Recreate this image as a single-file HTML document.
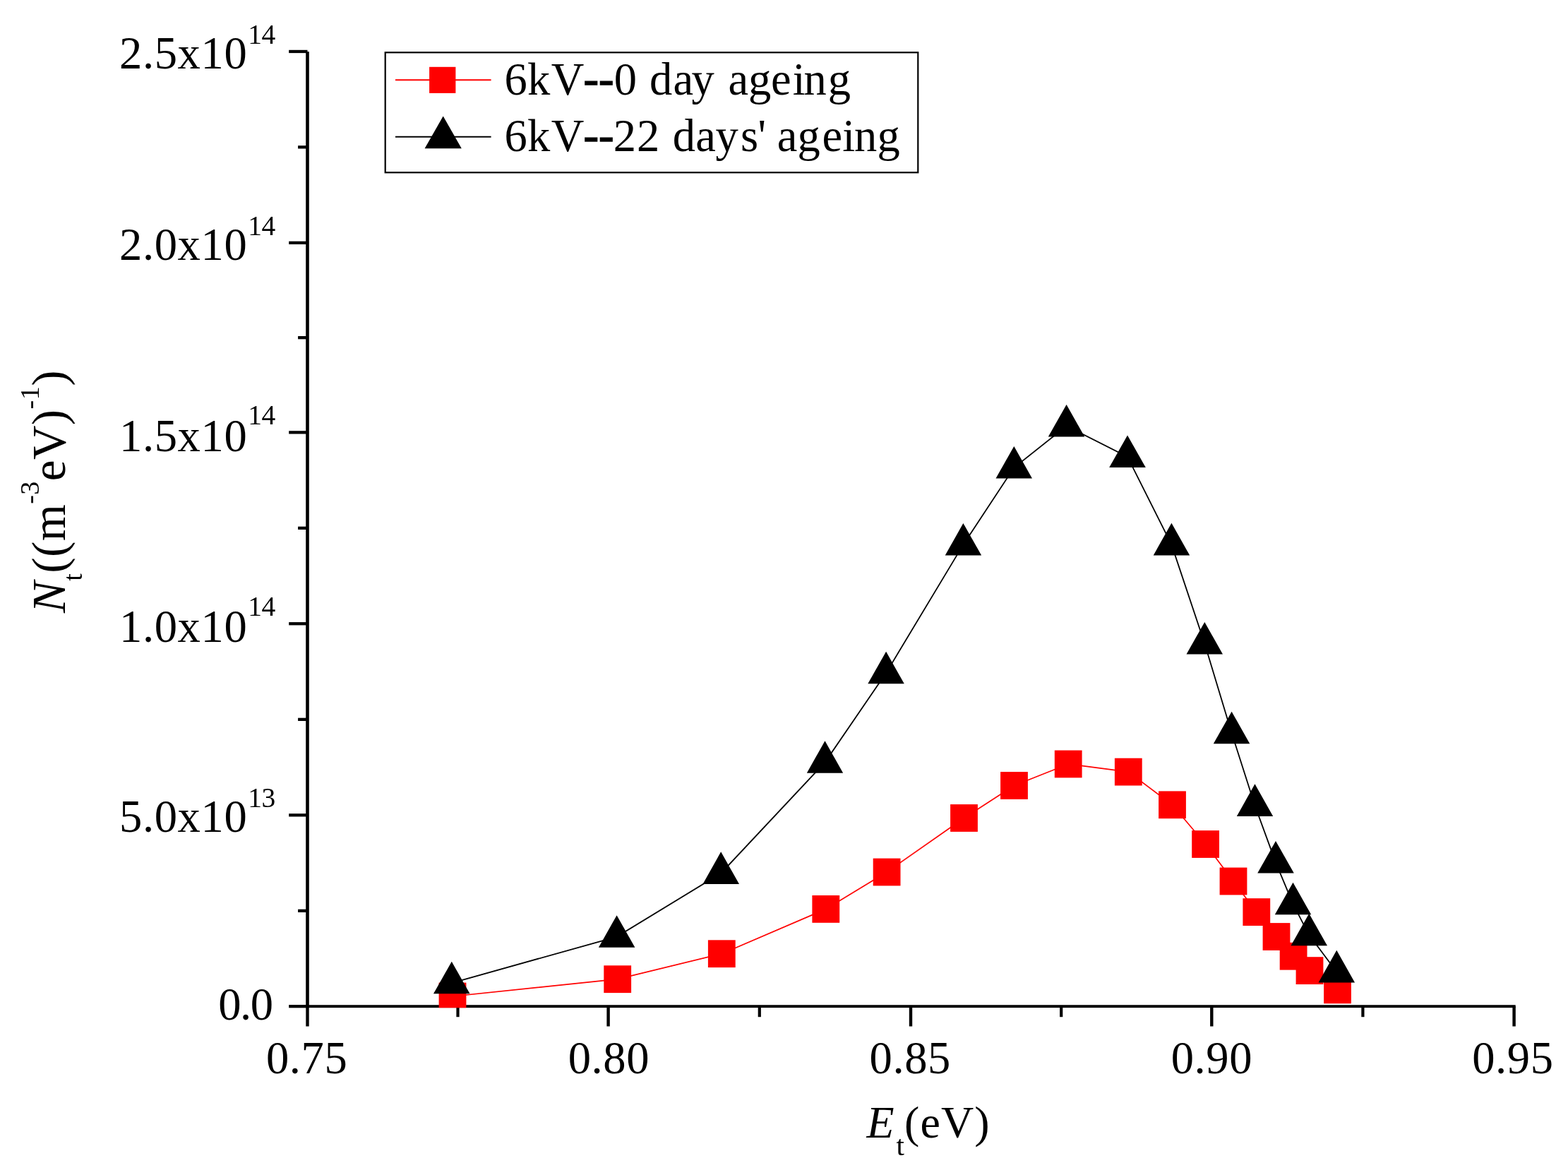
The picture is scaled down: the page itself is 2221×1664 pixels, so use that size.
<!DOCTYPE html>
<html><head><meta charset="utf-8"><title>Nt vs Et</title>
<style>html,body{margin:0;padding:0;background:#fff;}svg{display:block;}text{font-family:'Liberation Serif', 'Times New Roman', serif;fill:#000;}</style>
</head><body>
<svg width="2221" height="1664" viewBox="0 0 2221 1664">
<rect x="0" y="0" width="2221" height="1664" fill="#fff"/>
<defs><clipPath id="clip"><rect x="433.2" y="73.0" width="1713.7" height="1354.2"/></clipPath></defs>
<g fill="#000">
<rect x="433.2" y="73.2" width="4.6" height="1354.0"/>
<rect x="433.2" y="1423.2" width="1713.5" height="3.9"/>
<rect x="409.2" y="1423.0" width="26.3" height="4.3"/>
<rect x="409.2" y="1152.2" width="26.3" height="4.3"/>
<rect x="409.2" y="881.1" width="26.3" height="4.3"/>
<rect x="409.2" y="610.2" width="26.3" height="4.3"/>
<rect x="409.2" y="341.7" width="26.3" height="4.3"/>
<rect x="409.2" y="70.8" width="26.3" height="4.3"/>
<rect x="422.1" y="1287.7" width="13.4" height="4.3"/>
<rect x="422.1" y="1016.7" width="13.4" height="4.3"/>
<rect x="422.1" y="745.7" width="13.4" height="4.3"/>
<rect x="422.1" y="476.0" width="13.4" height="4.3"/>
<rect x="422.1" y="206.2" width="13.4" height="4.3"/>
<rect x="433.3" y="1425.2" width="4.4" height="28.3"/>
<rect x="859.4" y="1425.2" width="4.4" height="28.3"/>
<rect x="1287.8" y="1425.2" width="4.4" height="28.3"/>
<rect x="1714.1" y="1425.2" width="4.4" height="28.3"/>
<rect x="2142.4" y="1425.2" width="4.4" height="28.3"/>
<rect x="646.4" y="1425.2" width="4.2" height="15.0"/>
<rect x="1073.7" y="1425.2" width="4.2" height="15.0"/>
<rect x="1501.1" y="1425.2" width="4.2" height="15.0"/>
<rect x="1928.3" y="1425.2" width="4.2" height="15.0"/>
</g>
<g clip-path="url(#clip)">
<polyline fill="none" stroke="#f00" stroke-width="1.7" stroke-linejoin="miter" points="641.0,1411.0 874.7,1386.7 1022.3,1350.7 1169.8,1287.4 1256.1,1235.0 1365.5,1158.5 1436.5,1112.5 1513.2,1082.0 1598.3,1093.1 1660.5,1139.8 1707.6,1195.5 1747.0,1248.0 1779.8,1291.6 1808.0,1326.5 1832.1,1354.2 1855.0,1374.6 1894.5,1401.8"/>
<rect x="621.6" y="1391.6" width="38.8" height="38.8" fill="#f00"/>
<rect x="855.3" y="1367.3" width="38.8" height="38.8" fill="#f00"/>
<rect x="1002.9" y="1331.3" width="38.8" height="38.8" fill="#f00"/>
<rect x="1150.4" y="1268.0" width="38.8" height="38.8" fill="#f00"/>
<rect x="1236.7" y="1215.6" width="38.8" height="38.8" fill="#f00"/>
<rect x="1346.1" y="1139.1" width="38.8" height="38.8" fill="#f00"/>
<rect x="1417.1" y="1093.1" width="38.8" height="38.8" fill="#f00"/>
<rect x="1493.8" y="1062.6" width="38.8" height="38.8" fill="#f00"/>
<rect x="1578.9" y="1073.7" width="38.8" height="38.8" fill="#f00"/>
<rect x="1641.1" y="1120.4" width="38.8" height="38.8" fill="#f00"/>
<rect x="1688.2" y="1176.1" width="38.8" height="38.8" fill="#f00"/>
<rect x="1727.6" y="1228.6" width="38.8" height="38.8" fill="#f00"/>
<rect x="1760.4" y="1272.2" width="38.8" height="38.8" fill="#f00"/>
<rect x="1788.6" y="1307.1" width="38.8" height="38.8" fill="#f00"/>
<rect x="1812.7" y="1334.8" width="38.8" height="38.8" fill="#f00"/>
<rect x="1835.6" y="1355.2" width="38.8" height="38.8" fill="#f00"/>
<rect x="1875.1" y="1382.4" width="38.8" height="38.8" fill="#f00"/>
<polyline fill="none" stroke="#000" stroke-width="1.8" points="639.8,1392.1 873.6,1326.6 1021.2,1236.7 1168.5,1079.6 1255.1,953.1 1364.4,771.4 1436.3,662.3 1510.6,603.3 1597.0,646.9 1659.4,771.2 1706.3,911.3 1744.6,1038.1 1777.5,1140.7 1807.0,1221.4 1831.5,1280.1 1854.2,1324.1 1893.3,1376.2"/>
<polygon fill="#000" points="639.8,1361.7 665.5,1407.3 614.0,1407.3"/>
<polygon fill="#000" points="873.6,1296.2 899.4,1341.8 847.9,1341.8"/>
<polygon fill="#000" points="1021.2,1206.3 1047.0,1251.9 995.5,1251.9"/>
<polygon fill="#000" points="1168.5,1049.2 1194.2,1094.8 1142.8,1094.8"/>
<polygon fill="#000" points="1255.1,922.7 1280.8,968.3 1229.3,968.3"/>
<polygon fill="#000" points="1364.4,741.0 1390.2,786.6 1338.7,786.6"/>
<polygon fill="#000" points="1436.3,631.9 1462.0,677.5 1410.5,677.5"/>
<polygon fill="#000" points="1510.6,572.9 1536.3,618.5 1484.8,618.5"/>
<polygon fill="#000" points="1597.0,616.5 1622.8,662.1 1571.2,662.1"/>
<polygon fill="#000" points="1659.4,740.8 1685.2,786.4 1633.7,786.4"/>
<polygon fill="#000" points="1706.3,880.9 1732.0,926.5 1680.5,926.5"/>
<polygon fill="#000" points="1744.6,1007.7 1770.3,1053.3 1718.8,1053.3"/>
<polygon fill="#000" points="1777.5,1110.3 1803.2,1155.9 1751.8,1155.9"/>
<polygon fill="#000" points="1807.0,1191.0 1832.8,1236.6 1781.2,1236.6"/>
<polygon fill="#000" points="1831.5,1249.7 1857.2,1295.3 1805.8,1295.3"/>
<polygon fill="#000" points="1854.2,1293.7 1880.0,1339.3 1828.5,1339.3"/>
<polygon fill="#000" points="1893.3,1345.8 1919.0,1391.4 1867.5,1391.4"/>
</g>
<text x="385.5" y="1443.9" text-anchor="end" font-size="64.6" letter-spacing="-1.5">0.0</text>
<text x="350.3" y="1177.8" text-anchor="end" font-size="64.6" letter-spacing="0.6">5.0x10</text>
<text x="351.3" y="1143.2" font-size="39.5" letter-spacing="-0.6">13</text>
<text x="350.3" y="909.2" text-anchor="end" font-size="64.6" letter-spacing="0.6">1.0x10</text>
<text x="351.3" y="872.1" font-size="39.5" letter-spacing="-0.6">14</text>
<text x="350.3" y="638.6" text-anchor="end" font-size="64.6" letter-spacing="0.6">1.5x10</text>
<text x="351.3" y="601.2" font-size="39.5" letter-spacing="-0.6">14</text>
<text x="350.3" y="367.6" text-anchor="end" font-size="64.6" letter-spacing="0.6">2.0x10</text>
<text x="351.3" y="332.6" font-size="39.5" letter-spacing="-0.6">14</text>
<text x="350.3" y="96.6" text-anchor="end" font-size="64.6" letter-spacing="0.6">2.5x10</text>
<text x="351.3" y="61.8" font-size="39.5" letter-spacing="-0.6">14</text>
<text x="434.7" y="1520.2" text-anchor="middle" font-size="64.6" letter-spacing="0.6">0.75</text>
<text x="862.4" y="1520.2" text-anchor="middle" font-size="64.6" letter-spacing="0.6">0.80</text>
<text x="1289.3" y="1520.2" text-anchor="middle" font-size="64.6" letter-spacing="0.6">0.85</text>
<text x="1716.4" y="1520.2" text-anchor="middle" font-size="64.6" letter-spacing="0.6">0.90</text>
<text x="2142.9" y="1520.2" text-anchor="middle" font-size="64.6" letter-spacing="0.6">0.95</text>
<text x="1227.5" y="1610.6" font-size="64"><tspan font-style="italic">E</tspan><tspan font-size="41" dx="3" dy="25">t</tspan><tspan dx="0" dy="-25" letter-spacing="1.1">(eV)</tspan></text>
<g transform="translate(91.6 868) rotate(-90)">
<text x="0" y="0" font-size="67" letter-spacing="0.45"><tspan font-style="italic">N</tspan><tspan font-size="38" dy="24">t</tspan><tspan dy="-24">((m</tspan><tspan font-size="38" dy="-37">-3</tspan><tspan dy="37">eV)</tspan><tspan font-size="38" dy="-37">-1</tspan><tspan dy="37">)</tspan></text>
</g>
<rect x="545.7" y="74.3" width="754.6" height="170" fill="none" stroke="#000" stroke-width="2.2"/>
<line x1="560" y1="113.2" x2="695.6" y2="113.2" stroke="#f00" stroke-width="2.1"/>
<rect x="608.1" y="94.8" width="37.3" height="37.1" fill="#f00"/>
<line x1="560" y1="193.8" x2="695.6" y2="193.8" stroke="#000" stroke-width="2.1"/>
<polygon fill="#000" points="627.7,164.5 653.8,210.2 601.6,210.2"/>
<text x="714.6 746.9 780.7 826.4 848.1 869.7 902.0 920.1 953.4 979.5 1011.8 1031.5 1059.9 1092.1 1122.8 1138.6 1172.8" y="133.6" font-size="64.5">6kV<tspan stroke="#000" stroke-width="1.4" dy="-0.9">--</tspan><tspan dy="0.9">0 day ageing</tspan></text>
<text x="714.6 746.9 780.7 826.4 848.1 868.8 902.0 934.2 952.7 985.2 1013.6 1048.9 1073.4 1085.0 1100.7 1129.4 1164.6 1193.3 1209.9 1242.6" y="213.9" font-size="64.5">6kV<tspan stroke="#000" stroke-width="1.4" dy="-0.9">--</tspan><tspan dy="0.9">22 days' ageing</tspan></text>
</svg>
</body></html>
